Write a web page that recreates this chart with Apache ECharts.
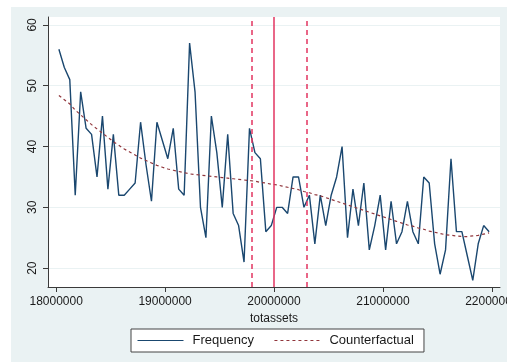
<!DOCTYPE html>
<html><head><meta charset="utf-8">
<script src="https://cdn.jsdelivr.net/npm/echarts@6/dist/echarts.min.js"></script>
<style>html,body{margin:0;padding:0;background:#fff;width:507px;height:362px;overflow:hidden}
#c{position:absolute;left:11px;top:7px;width:496px;height:355px;}</style>
</head><body><div id="c"></div>
<script>
const totassets = [18025000,18075000,18125000,18175000,18225000,18275000,18325000,18375000,18425000,18475000,
18525000,18575000,18625000,18675000,18725000,18775000,18825000,18875000,18925000,18975000,
19025000,19075000,19125000,19175000,19225000,19275000,19325000,19375000,19425000,19475000,
19525000,19575000,19625000,19675000,19725000,19775000,19825000,19875000,19925000,19975000,
20025000,20075000,20125000,20175000,20225000,20275000,20325000,20375000,20425000,20475000,
20525000,20575000,20625000,20675000,20725000,20775000,20825000,20875000,20925000,20975000,
21025000,21075000,21125000,21175000,21225000,21275000,21325000,21375000,21425000,21475000,
21525000,21575000,21625000,21675000,21725000,21775000,21825000,21875000,21925000,21975000];
const frequency = [56,53,51,32,49,43,42,35,45,33,
42,32,32,33,34,44,37,31,44,41,
38,43,33,32,57,49,30,25,45,39,
30,42,29,27,21,43,39,38,26,27,
30,30,29,35,35,30,32,24,32,27,
32,35,40,25,33,27,34,23,27,32,
23,31,24,26,31,26,24,35,34,24,
19,23,38,26,26,22,18,24,27,26];
const counterfactual = [48.4,47.7,47.0,46.0,45.2,44.4,43.6,42.9,42.2,41.5,
40.8,40.2,39.6,39.1,38.6,38.1,37.7,37.3,36.9,36.6,
36.3,36.1,35.9,35.7,35.5,35.4,35.3,35.2,35.1,35.0,
34.9,34.8,34.7,34.6,34.5,34.4,34.3,34.1,34.0,33.8,
33.7,33.5,33.3,33.1,32.9,32.6,32.4,32.1,31.9,31.6,
31.3,31.0,30.7,30.4,30.1,29.8,29.5,29.2,28.9,28.6,
28.3,28.0,27.7,27.4,27.1,26.9,26.6,26.4,26.1,25.9,
25.7,25.5,25.4,25.3,25.2,25.2,25.3,25.4,25.6,25.8];
const xTicks = [18000000,19000000,20000000,21000000,22000000];
const yTicks = [20,30,40,50,60];
const cutoff = 20000000;
const bandLow = 19800000, bandHigh = 20300000;

const font = 'Liberation Sans, Arial, sans-serif';
const chart = echarts.init(document.getElementById('c'), null, {renderer:'canvas'});
const axisColor = '#3a3a3a';
chart.setOption({
  animation:false,
  backgroundColor:'#eaf2f3',
  grid:{left:37,top:10,right:7,bottom:75,show:true,backgroundColor:'#ffffff',borderWidth:0,outerBoundsMode:'none',containLabel:false},
  xAxis:{type:'value',min:17925000,max:22075000,
    name:'totassets',nameLocation:'middle',nameGap:23,
    nameTextStyle:{color:'#1a1a1a',fontSize:12,fontFamily:font},
    axisLine:{show:true,onZero:false,lineStyle:{color:axisColor,width:1}},
    axisTick:{show:true,customValues:xTicks,length:5,lineStyle:{color:axisColor}},
    axisLabel:{show:true,customValues:xTicks,margin:9,color:'#1a1a1a',fontSize:12,fontFamily:font,formatter:v=>String(v),hideOverlap:false},
    splitLine:{show:false}},
  yAxis:{type:'value',min:16.9,max:61.3,
    axisLine:{show:true,onZero:false,lineStyle:{color:axisColor,width:1}},
    axisTick:{show:true,customValues:yTicks,length:5,lineStyle:{color:axisColor}},
    axisLabel:{show:true,customValues:yTicks,rotate:90,margin:9,color:'#1a1a1a',fontSize:12,fontFamily:font},
    splitLine:{show:true,lineStyle:{color:'#eaf2f3',width:1}}},
  legend:{data:['Frequency','Counterfactual'],left:120,top:322,
    itemWidth:46,itemHeight:10,itemGap:20,
    itemStyle:{opacity:0},lineStyle:{width:1},
    backgroundColor:'#fff',borderColor:'#444',borderWidth:1,borderRadius:0,padding:[5,10,5,6],
    textStyle:{color:'#1a1a1a',fontSize:13,fontFamily:font,padding:[0,0,0,4]}},
  series:[
    {name:'Frequency',type:'line',symbol:'none',
     data:totassets.map((x,i)=>[x,frequency[i]]),
     lineStyle:{color:'#1a476f',width:1.4},itemStyle:{color:'#1a476f'},z:3,
     markLine:{silent:true,symbol:['none','none'],label:{show:false},
       lineStyle:{color:'#e23560',width:1.5},
       data:[{xAxis:bandLow,lineStyle:{type:[5,4]}},{xAxis:cutoff,lineStyle:{type:'solid'}},{xAxis:bandHigh,lineStyle:{type:[5,4]}}]}},
    {name:'Counterfactual',type:'line',symbol:'none',
     data:totassets.map((x,i)=>[x,counterfactual[i]]),
     lineStyle:{color:'#90353b',width:1.2,type:[3,3]},itemStyle:{color:'#90353b'},z:4}
  ]
});
</script></body></html>
